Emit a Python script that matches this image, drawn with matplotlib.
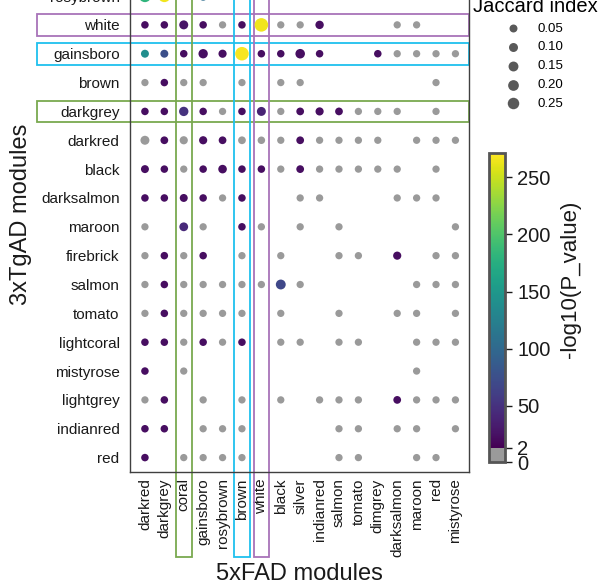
import numpy as np
import matplotlib
matplotlib.use("Agg")
import matplotlib.pyplot as plt
from matplotlib import colors as mcolors
from matplotlib.patches import Rectangle
from matplotlib.cm import ScalarMappable

plt.rcParams['font.family'] = ['Liberation Sans', 'DejaVu Sans']

n = np.nan

# 3xTgAD modules (rows, top to bottom) and 5xFAD modules (columns)
rows = ['rosybrown', 'white', 'gainsboro', 'brown', 'darkgrey', 'darkred', 'black',
        'darksalmon', 'maroon', 'firebrick', 'salmon', 'tomato', 'lightcoral',
        'mistyrose', 'lightgrey', 'indianred', 'red']
cols = ['darkred', 'darkgrey', 'coral', 'gainsboro', 'rosybrown', 'brown', 'white',
        'black', 'silver', 'indianred', 'salmon', 'tomato', 'dimgrey', 'darksalmon',
        'maroon', 'red', 'mistyrose']

# -log10(P_value), nan = no overlap
nlogp = [
    [180, 265, 15, 105, 15, 150, 1, 1, 15, 15, 1, 1, 1, 1, 1, 1, 1],
    [15, 15, 20, 15, 1, 15, 265, 1, 1, 15, n, n, n, 1, 1, n, n],
    [140, 75, 15, 15, 15, 268, 15, 15, 15, 15, n, n, 15, 1, 1, 1, 1],
    [1, 15, 1, 1, n, 1, n, 1, 1, n, n, n, n, n, n, 1, n],
    [15, 15, 50, 15, 1, 15, 35, 1, 15, 15, 15, 1, 1, 1, n, 1, n],
    [1, 15, 1, 15, 15, 1, 1, 1, 15, 1, 1, 1, 1, n, 1, 1, 1],
    [15, 15, 1, 15, 15, 15, 15, 1, 15, 1, 1, 1, 1, 1, n, 1, n],
    [15, 15, 15, 15, 1, 15, n, n, 1, 1, n, n, n, 1, 1, 1, n],
    [1, n, 42, 1, n, 15, 1, n, 1, n, 1, n, n, n, n, n, 1],
    [1, 15, 1, 15, n, 1, n, 1, n, n, 1, 1, n, 15, n, 1, 1],
    [1, 15, 1, 1, 1, 1, 1, 70, 1, n, n, n, n, n, 1, 1, 1],
    [1, 15, 1, 1, 1, 1, n, 1, n, n, 1, n, n, 1, 1, n, 1],
    [15, 15, 1, 15, 1, 15, n, 1, 1, n, 1, 1, n, n, 1, 1, 1],
    [15, n, 1, n, n, n, n, n, n, n, n, n, n, n, 1, n, n],
    [1, 15, n, 1, n, 1, n, 1, n, 1, 1, 1, n, 15, 1, 1, 1],
    [15, 15, n, 1, 1, 1, n, n, n, n, 1, 1, n, 1, 1, n, 1],
    [15, n, 1, 1, 1, 1, n, n, n, n, 1, 1, n, n, 1, 1, n],
]

# Jaccard index
jaccard = [
    [.30, .30, .03, .12, .03, .04, .02, .02, .03, .03, .02, .02, .02, .02, .02, .02, .02],
    [.03, .03, .10, .03, .02, .03, .40, .02, .02, .07, n, n, n, .02, .02, n, n],
    [.05, .05, .03, .12, .06, .40, .03, .03, .13, .03, n, n, .03, .02, .02, .02, .02],
    [.02, .03, .02, .02, n, .02, n, .02, .02, n, n, n, n, n, n, .02, n],
    [.03, .03, .12, .03, .02, .03, .10, .02, .04, .06, .04, .02, .02, .02, n, .02, n],
    [.10, .04, .06, .06, .04, .04, .03, .02, .04, .02, .02, .02, .02, n, .02, .02, .02],
    [.05, .03, .02, .03, .08, .03, .03, .02, .04, .02, .02, .02, .02, .02, n, .02, n],
    [.03, .03, .05, .03, .02, .03, n, n, .02, .02, n, n, n, .02, .02, .02, n],
    [.02, n, .09, .02, n, .03, .02, n, .02, n, .02, n, n, n, n, n, .02],
    [.02, .03, .02, .03, n, .02, n, .02, n, n, .02, .02, n, .06, n, .02, .02],
    [.02, .03, .02, .02, .02, .02, .02, .15, .02, n, n, n, n, n, .02, .02, .02],
    [.02, .03, .02, .02, .02, .02, n, .02, n, n, .02, n, n, .02, .02, n, .02],
    [.03, .03, .02, .03, .02, .03, n, .02, .02, n, .02, .02, n, n, .02, .02, .02],
    [.03, n, .02, n, n, n, n, n, n, n, n, n, n, n, .02, n, n],
    [.02, .03, n, .02, n, .02, n, .02, n, .02, .02, .02, n, .04, .02, .02, .02],
    [.03, .03, n, .02, .02, .02, n, n, n, n, .02, .02, n, .02, .02, n, .02],
    [.03, n, .02, .02, .02, .02, n, n, n, n, .02, .02, n, n, .02, .02, n],
]

legend_j = [0.05, 0.10, 0.15, 0.20, 0.25]
cbar_ticks = [0, 2, 50, 100, 150, 200, 250]

# highlighted modules: (name, colour)
row_boxes = [('white', '#a873b9'), ('gainsboro', '#1fc0ee'), ('darkgrey', '#79a94f')]
col_boxes = [('coral', '#79a94f'), ('brown', '#1fc0ee'), ('white', '#a873b9')]


def dot_size(j):
    return 24 + 178 * np.asarray(j)


# colour scale: grey below 2, viridis above, stretched like the original bar
cb_v = [0, 2, 50, 271]
cb_p = np.array([0, 14, 56, 308]) / 308
norm = mcolors.FuncNorm((lambda v: np.interp(v, cb_v, cb_p),
                         lambda p: np.interp(p, cb_p, cb_v)), vmin=0, vmax=271)
ngrey = 14
cmap = mcolors.ListedColormap(['#9a9a9a'] * ngrey +
                              list(plt.cm.viridis(np.linspace(0, 1, 308 - ngrey))))

P = np.array(nlogp, dtype=float)
J = np.array(jaccard, dtype=float)
yy, xx = np.nonzero(~np.isnan(P))

fig = plt.figure(figsize=(6.08, 5.86), dpi=100)
ax = fig.add_axes([0.2138, 0.1945, 0.5576, 0.8369])

ax.scatter(xx, yy, s=dot_size(J[yy, xx]), c=cmap(norm(P[yy, xx])),
           linewidths=0, zorder=3)

ax.set_xlim(-0.77, 16.7)
ax.set_ylim(len(rows) - 0.5, -0.5)
ax.set_xticks(range(len(cols)))
ax.set_xticklabels(cols, rotation=90, fontsize=11, color='#1a1a1a')
ax.set_yticks(range(len(rows)))
ax.set_yticklabels(rows, fontsize=11, color='#1a1a1a')
ax.tick_params(axis='both', length=0)
ax.tick_params(axis='y', pad=7.5)
ax.tick_params(axis='x', pad=4.5)
for s in ax.spines.values():
    s.set_color('#404040')
    s.set_linewidth(1.0)

ax.set_xlabel('5xFAD modules', fontsize=17, color='#1a1a1a')
ax.set_ylabel('3xTgAD modules', fontsize=17, color='#1a1a1a')
ax.xaxis.set_label_coords(0.5, -0.186)
ax.yaxis.set_label_coords(-0.29, 0.526)

# boxes around highlighted rows / columns
for name, c in row_boxes:
    r = rows.index(name)
    ax.add_patch(Rectangle((-5.57, r - 0.375), 16.7 + 5.57, 0.75, fill=False,
                           edgecolor=c, lw=1.3, clip_on=False, zorder=2))
for name, c in col_boxes:
    k = cols.index(name)
    ax.add_patch(Rectangle((k - 0.4, -2), 0.8, 21.44, fill=False,
                           edgecolor=c, lw=1.3, clip_on=False, zorder=2))

# size legend
handles = [ax.scatter([], [], s=dot_size(v), color='#595959', linewidths=0)
           for v in legend_j]
leg = fig.legend(handles, ['%.2f' % v for v in legend_j], title='Jaccard index',
                 loc='upper left', bbox_to_anchor=(0.7685, 1.0145), frameon=False,
                 fontsize=9.5, title_fontsize=14.5, handlelength=1.0,
                 handletextpad=1.4, labelspacing=0.5, borderaxespad=0)

# colour bar
cax = fig.add_axes([0.804, 0.2116, 0.0271, 0.527])
cb = fig.colorbar(ScalarMappable(norm=norm, cmap=cmap), cax=cax, ticks=cbar_ticks)
cb.outline.set_edgecolor('#555555')
cb.outline.set_linewidth(2)
cax.tick_params(labelsize=14.5, length=5, width=1, colors='#1a1a1a')
cb.set_label('-log10(P_value)', fontsize=16, color='#1a1a1a')
cax.yaxis.set_label_coords(4.3, 0.59)

fig.savefig('out.png', dpi=100)
